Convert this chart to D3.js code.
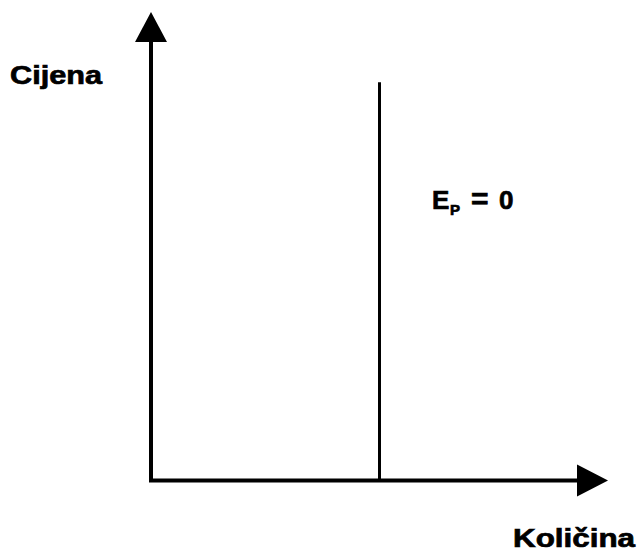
<!DOCTYPE html>
<html>
<head>
<meta charset="utf-8">
<script src="https://cdn.jsdelivr.net/npm/d3@7"></script>
<style>
  html, body { margin: 0; padding: 0; background: #fff; }
  svg { display: block; }
  text { font-family: "Liberation Sans", Arial, sans-serif; font-weight: bold; fill: #000; stroke: #000; stroke-width: 0.7px; }
</style>
</head>
<body>
<svg id="chart" width="639" height="552"></svg>
<script>
// Data
const yAxisLabel = "Cijena";
const xAxisLabel = "Količina";
const elasticityLabel = ["E", "P", "=", "0"];
const inelasticQuantity = [5];      // quantity where the vertical (perfectly inelastic) line stands
const inelasticPriceRange = [0, 8.5]; // price span of the vertical line
const quantityDomain = [0, 10];
const priceDomain = [0, 10];

const svg = d3.select("#chart");

const x = d3.scaleLinear().domain(quantityDomain).range([151, 608]);
const y = d3.scaleLinear().domain(priceDomain).range([480.5, 12]);

// Axes lines
svg.append("line")
  .attr("x1", x(0)).attr("y1", y(0))
  .attr("x2", x(0)).attr("y2", y(priceDomain[1]) + 28)
  .attr("stroke", "#000").attr("stroke-width", 4);
svg.append("line")
  .attr("x1", x(0) - 2).attr("y1", y(0))
  .attr("x2", x(quantityDomain[1]) - 28).attr("y2", y(0))
  .attr("stroke", "#000").attr("stroke-width", 4);

// Arrowheads
const ty = y(priceDomain[1]);
svg.append("path")
  .attr("d", `M${x(0)},${ty} L${x(0) - 16},${ty + 30} L${x(0) + 16},${ty + 30} Z`)
  .attr("fill", "#000");
const tx = x(quantityDomain[1]);
svg.append("path")
  .attr("d", `M${tx},${y(0)} L${tx - 31},${y(0) - 16} L${tx - 31},${y(0) + 16} Z`)
  .attr("fill", "#000");

// Vertical line (perfectly inelastic)
svg.selectAll("line.inelastic")
  .data(inelasticQuantity)
  .join("line")
  .attr("class", "inelastic")
  .attr("x1", d => x(d)).attr("x2", d => x(d))
  .attr("y1", y(inelasticPriceRange[0])).attr("y2", y(inelasticPriceRange[1]))
  .attr("stroke", "#000").attr("stroke-width", 3);

// Axis labels
svg.append("text")
  .attr("x", 10).attr("y", 84)
  .attr("font-size", 26)
  .attr("textLength", 92).attr("lengthAdjust", "spacingAndGlyphs")
  .text(yAxisLabel);

svg.append("text")
  .attr("x", 513).attr("y", 547)
  .attr("font-size", 25)
  .attr("textLength", 122).attr("lengthAdjust", "spacingAndGlyphs")
  .text(xAxisLabel);

// Elasticity label
const lab = svg.append("text").attr("y", 209);
lab.append("tspan").attr("x", 432).attr("font-size", 26).text(elasticityLabel[0]);
lab.append("tspan").attr("x", 450).attr("y", 215).attr("font-size", 15).text(elasticityLabel[1]);
lab.append("tspan").attr("x", 471).attr("y", 209).attr("font-size", 30).text(elasticityLabel[2]);
lab.append("tspan").attr("x", 499).attr("y", 209).attr("font-size", 26).text(elasticityLabel[3]);
</script>
</body>
</html>
